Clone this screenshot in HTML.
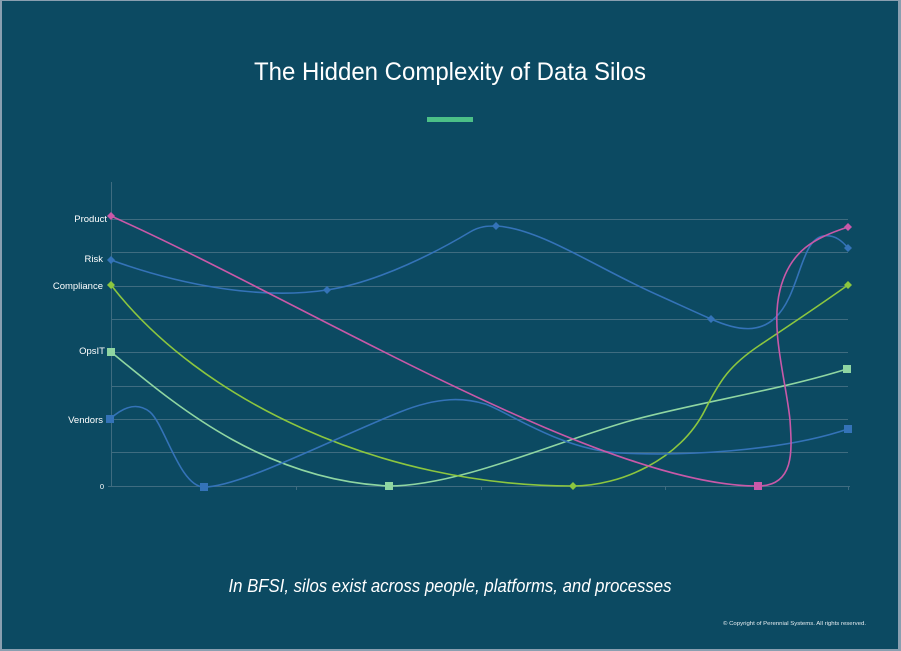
<!DOCTYPE html>
<html>
<head>
<meta charset="utf-8">
<style>
html,body{margin:0;padding:0;background:#6d8497;}
body{width:901px;height:651px;overflow:hidden;position:relative;}
svg{position:absolute;left:0;top:0;display:block;}
</style>
</head>
<body>
<svg width="901" height="651" viewBox="0 0 901 651" xmlns="http://www.w3.org/2000/svg">
  <rect x="0" y="0" width="901" height="651" fill="#8a9fb0"/>
  <rect x="2" y="1" width="896" height="648" fill="#0c4a62"/>

  <!-- title -->
  <text x="450" y="80" text-anchor="middle" font-family="Liberation Sans, sans-serif" font-size="25" fill="#ffffff" textLength="392" lengthAdjust="spacingAndGlyphs">The Hidden Complexity of Data Silos</text>
  <rect x="427" y="117" width="46" height="5" fill="#4cbf87"/>

  <!-- grid -->
  <g stroke="#3f6c80" stroke-width="1">
    <line x1="111" y1="219.5" x2="848" y2="219.5"/>
    <line x1="111" y1="252.5" x2="848" y2="252.5"/>
    <line x1="111" y1="286.5" x2="848" y2="286.5"/>
    <line x1="111" y1="319.5" x2="848" y2="319.5"/>
    <line x1="111" y1="352.5" x2="848" y2="352.5"/>
    <line x1="111" y1="386.5" x2="848" y2="386.5"/>
    <line x1="111" y1="419.5" x2="848" y2="419.5"/>
    <line x1="111" y1="452.5" x2="848" y2="452.5"/>
    <line x1="108" y1="486.5" x2="850" y2="486.5"/>
    <line x1="111.5" y1="182" x2="111.5" y2="487"/>
    <line x1="296.5" y1="486" x2="296.5" y2="490"/>
    <line x1="481.5" y1="486" x2="481.5" y2="490"/>
    <line x1="665.5" y1="486" x2="665.5" y2="490"/>
    <line x1="848.5" y1="486" x2="848.5" y2="490"/>
  </g>

  <!-- labels -->
  <g font-family="Liberation Sans, sans-serif" font-size="9.5" fill="#ffffff" text-anchor="end">
    <text x="107" y="222">Product</text>
    <text x="103" y="262">Risk</text>
    <text x="103" y="289">Compliance</text>
    <text x="105" y="354">OpsIT</text>
    <text x="103" y="423">Vendors</text>
    <text x="104" y="489" font-size="7.5">0</text>
  </g>

  <g fill="none" stroke-width="1.6" stroke-linecap="round" stroke-linejoin="round">
    <!-- OpsIT -->
    <path stroke="#8fd6a2" d="M111,352 C170,400 260,480 389,486 C460,486 560,440 633,420 C700,402 780,390 847,369"/>
    <!-- Compliance -->
    <path stroke="#8cc63f" d="M111,285 C200,400 380,486 573,486 C620,486 680,460 705,410 C720,380 730,365 760,345 C790,325 820,305 848,285"/>
    <!-- Vendors -->
    <path stroke="#3473b8" d="M110,419 C120,410 135,400 150,412 C165,425 180,487 204,487 C240,487 330,440 400,412 C440,396 465,398 485,404 C505,410 560,450 620,453 C680,456 780,452 848,429"/>
    <!-- Risk -->
    <path stroke="#3473b8" d="M111,260 C180,285 260,300 327,290 C380,282 440,250 470,232 C480,226 488,226 496,226 C540,228 600,270 660,296 C680,305 695,312 711,319 C740,332 760,332 775,318 C800,295 800,240 823,236 C835,234 843,242 848,248"/>
    <!-- Product -->
    <path stroke="#c959a8" d="M111,216 C300,300 600,486 758,486 C795,486 792,450 790,420 C786,380 770,330 780,290 C790,250 815,238 848,227"/>
  </g>

  <!-- markers -->
  <g>
    <rect x="107" y="348" width="8" height="8" fill="#8fd6a2"/>
    <rect x="385" y="482" width="8" height="8" fill="#8fd6a2"/>
    <rect x="843" y="365" width="8" height="8" fill="#8fd6a2"/>

    <rect x="106" y="415" width="8" height="8" fill="#3473b8"/>
    <rect x="200" y="483" width="8" height="8" fill="#3473b8"/>
    <rect x="844" y="425" width="8" height="8" fill="#3473b8"/>

    <rect x="754" y="482" width="8" height="8" fill="#c959a8"/>

    <g fill="#c959a8">
      <path d="M111,212 L115,216 L111,220 L107,216 Z"/>
      <path d="M848,223 L852,227 L848,231 L844,227 Z"/>
    </g>
    <g fill="#3473b8">
      <path d="M111,256 L115,260 L111,264 L107,260 Z"/>
      <path d="M327,286 L331,290 L327,294 L323,290 Z"/>
      <path d="M496,222 L500,226 L496,230 L492,226 Z"/>
      <path d="M711,315 L715,319 L711,323 L707,319 Z"/>
      <path d="M848,244 L852,248 L848,252 L844,248 Z"/>
    </g>
    <g fill="#8cc63f">
      <path d="M111,281 L115,285 L111,289 L107,285 Z"/>
      <path d="M573,482 L577,486 L573,490 L569,486 Z"/>
      <path d="M848,281 L852,285 L848,289 L844,285 Z"/>
    </g>
  </g>

  <!-- subtitle -->
  <text x="450" y="592" text-anchor="middle" font-family="Liberation Sans, sans-serif" font-style="italic" font-size="18" fill="#ffffff" textLength="443" lengthAdjust="spacingAndGlyphs">In BFSI, silos exist across people, platforms, and processes</text>

  <!-- copyright -->
  <text x="723" y="625" font-family="Liberation Sans, sans-serif" font-size="5.8" fill="#e6edf1" textLength="143" lengthAdjust="spacingAndGlyphs">© Copyright of Perennial Systems. All rights reserved.</text>
</svg>
</body>
</html>
